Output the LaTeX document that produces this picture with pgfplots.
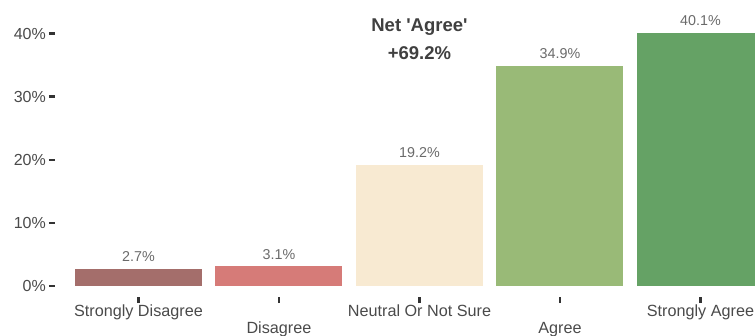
\documentclass[border=0pt]{standalone}
\usepackage{pgfplots}
\pgfplotsset{compat=1.18}
\usepackage{fontspec}
\setmainfont{Liberation Sans}
\definecolor{c1}{HTML}{A46E6B}
\definecolor{c2}{HTML}{D67B78}
\definecolor{c3}{HTML}{F8EAD2}
\definecolor{c4}{HTML}{99BA77}
\definecolor{c5}{HTML}{65A265}
\definecolor{ticktxt}{HTML}{4A4A4A}
\definecolor{valtxt}{HTML}{6A6A6A}
\definecolor{titletxt}{HTML}{404040}
\begin{document}
\begin{tikzpicture}
\begin{axis}[
  scale only axis, width=700pt, height=297pt,
  xmin=-0.594, xmax=4.388, ymin=-1.743, ymax=45.32,
  axis line style={draw=none},
  clip=false,
  xtick={0,1,2,3,4}, xticklabels={},
  ytick={0,10,20,30,40}, yticklabels={0\%,10\%,20\%,30\%,40\%},
  tick align=outside, major tick length=6pt,
  xtick pos=lower, ytick pos=left,
  tick style={line width=2.4pt, color=black!80},
  yticklabel style={font=\fontsize{16}{18}\selectfont, text=ticktxt, anchor=east, inner sep=0pt, xshift=-3pt},
]
\addplot[ybar, bar width=0.904, bar shift=0pt, fill=c1, draw=none] coordinates {(0,2.7)};
\addplot[ybar, bar width=0.904, bar shift=0pt, fill=c2, draw=none] coordinates {(1,3.1)};
\addplot[ybar, bar width=0.904, bar shift=0pt, fill=c3, draw=none] coordinates {(2,19.2)};
\addplot[ybar, bar width=0.904, bar shift=0pt, fill=c4, draw=none] coordinates {(3,34.9)};
\addplot[ybar, bar width=0.904, bar shift=0pt, fill=c5, draw=none] coordinates {(4,40.1)};
\begin{scope}[every node/.style={anchor=base, text=valtxt, font=\fontsize{14.3}{16}\selectfont, yshift=7pt}]
\node at (axis cs:0,2.7) {2.7\%};
\node at (axis cs:1,3.1) {3.1\%};
\node at (axis cs:2,19.2) {19.2\%};
\node at (axis cs:3,34.9) {34.9\%};
\node at (axis cs:4,40.1) {40.1\%};
\end{scope}
\begin{scope}[every node/.style={anchor=base, text=ticktxt, font=\fontsize{16.2}{18}\selectfont}]
\node at (axis cs:0,-4.91) {Strongly Disagree};
\node at (axis cs:1,-7.45) {Disagree};
\node at (axis cs:2,-4.91) {Neutral Or Not Sure};
\node at (axis cs:3,-7.45) {Agree};
\node at (axis cs:4,-4.91) {Strongly Agree};
\end{scope}
\node[anchor=base, text=titletxt, font=\bfseries\fontsize{18.5}{20}\selectfont] at (axis cs:2,40.25) {Net \textquotesingle Agree\textquotesingle};
\node[anchor=base, text=titletxt, font=\bfseries\fontsize{18.5}{20}\selectfont] at (axis cs:2,35.97) {+69.2\%};
\coordinate (ll) at (rel axis cs:0,0);
\coordinate (ur) at (rel axis cs:1,1);
\end{axis}
\pgfresetboundingbox
\path[use as bounding box] ([shift={(-55pt,-38pt)}]ll) rectangle (ur);
\end{tikzpicture}
\end{document}
